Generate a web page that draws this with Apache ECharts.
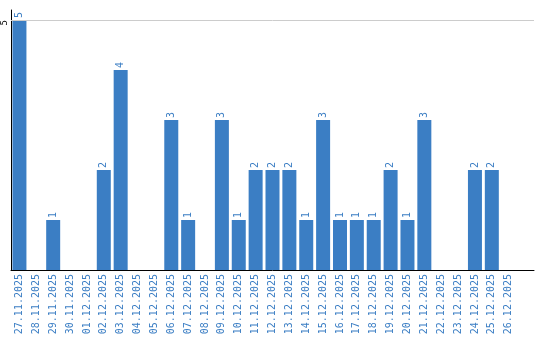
<!DOCTYPE html>
<html><head><meta charset="utf-8">
<script src="https://cdn.jsdelivr.net/npm/echarts@6/dist/echarts.min.js"></script>
<style>html,body{margin:0;padding:0;background:#fff}#c{width:540px;height:340px}</style>
</head><body><div id="c"></div>
<script>
const categories = ["27.11.2025","28.11.2025","29.11.2025","30.11.2025","01.12.2025","02.12.2025","03.12.2025","04.12.2025","05.12.2025","06.12.2025","07.12.2025","08.12.2025","09.12.2025","10.12.2025","11.12.2025","12.12.2025","13.12.2025","14.12.2025","15.12.2025","16.12.2025","17.12.2025","18.12.2025","19.12.2025","20.12.2025","21.12.2025","22.12.2025","23.12.2025","24.12.2025","25.12.2025","26.12.2025"];
const values = [5,0,1,0,0,2,4,0,0,3,1,0,3,1,2,2,2,1,3,1,1,1,2,1,3,0,0,2,2,0];
const yTicks = [5];
const blue = '#3b7ec4';
const chart = echarts.init(document.getElementById('c'));
chart.setOption({
  animation: false,
  grid: {left: 9, right: 6, top: 10, bottom: 70, containLabel: false},
  xAxis: {
    type: 'category', data: categories.concat(['']),
    axisLine: {lineStyle: {color: '#000', width: 1}},
    axisTick: {show: false},
    axisLabel: {rotate: 90, interval: 0, color: blue, fontFamily: 'DejaVu Sans Mono', fontSize: 10, margin: 4}
  },
  yAxis: {
    type: 'value', min: 0, max: 5.2, interval: 5,
    axisLine: {show: true, lineStyle: {color: '#000', width: 1}},
    axisTick: {show: false},
    splitLine: {show: false},
    axisLabel: {rotate: 90, color: '#000', fontFamily: 'DejaVu Sans Mono', fontSize: 9, margin: 2,
      align: 'right', verticalAlign: 'bottom', showMaxLabel: false,
      formatter: v => yTicks.includes(v) ? String(v) : ''}
  },
  series: [{
    type: 'bar', data: values, barWidth: 14,
    itemStyle: {color: blue},
    label: {show: true, position: 'top', rotate: 90, distance: 2, color: blue,
      align: 'left', verticalAlign: 'middle',
      fontFamily: 'DejaVu Sans Mono', fontSize: 10,
      formatter: p => p.value > 0 ? String(p.value) : ''},
    markLine: {silent: true, symbol: 'none', label: {show: false},
      lineStyle: {color: '#ccc', type: 'solid', width: 1},
      data: yTicks.map(t => ({yAxis: t}))}
  }]
});
</script></body></html>
